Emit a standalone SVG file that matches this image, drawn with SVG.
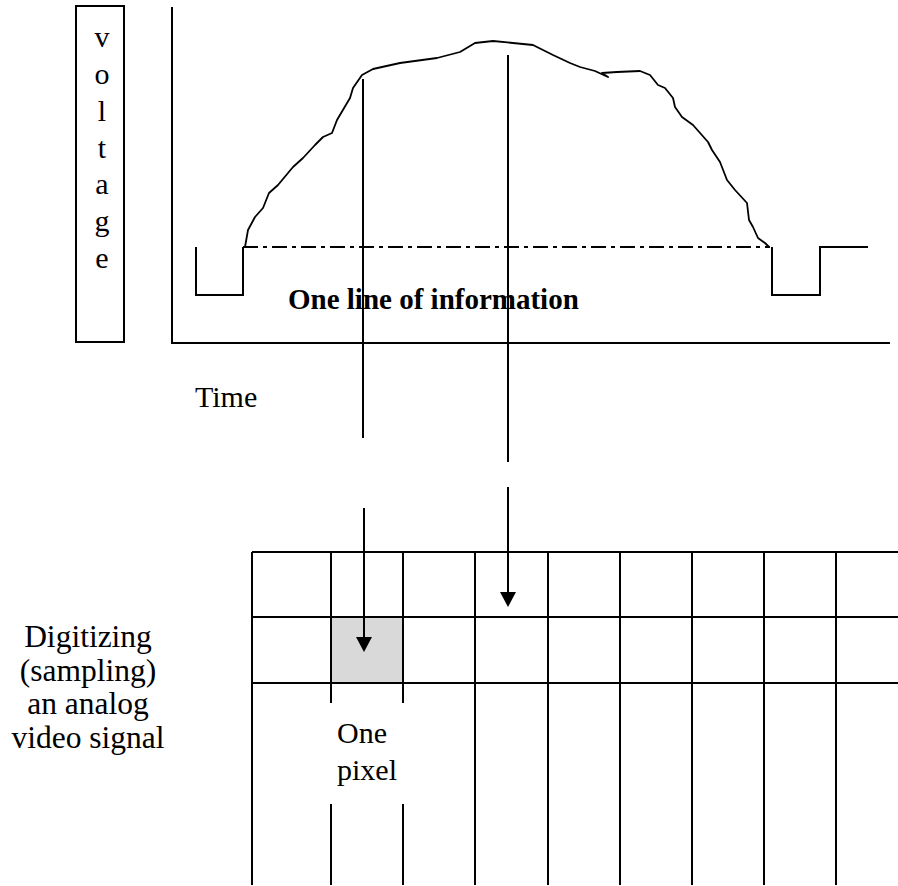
<svg xmlns="http://www.w3.org/2000/svg" width="898" height="886" viewBox="0 0 898 886">
<style>
.ln{stroke:#000;stroke-width:2;fill:none}
.cv{stroke:#000;stroke-width:1.8;fill:none;stroke-linejoin:round;stroke-linecap:round}
.dd{stroke:#000;stroke-width:2;fill:none;stroke-dasharray:15 5 4 5}
.t{font-family:"Liberation Serif","Times New Roman",serif;font-size:30px;fill:#000}
.tl{font-size:31.5px}
.b{font-family:"Liberation Serif","Times New Roman",serif;font-size:29px;font-weight:bold;fill:#000}
</style>
<defs>
<marker id="ah" viewBox="0 0 15 16" markerWidth="15" markerHeight="16" refX="5" refY="8" orient="auto" markerUnits="userSpaceOnUse">
<path d="M0,0 L15,8 L0,16 z" fill="#000"/>
</marker>
</defs>
<rect width="898" height="886" fill="#fff"/>

<g id="voltage-label">
<rect x="76" y="6" width="48" height="336" class="ln"/>
<g class="t" text-anchor="middle">
<text x="102" y="47">v</text>
<text x="102" y="84">o</text>
<text x="102" y="121">l</text>
<text x="102" y="158">t</text>
<text x="102" y="194">a</text>
<text x="102" y="231">g</text>
<text x="102" y="268">e</text>
</g>
</g>

<g id="axes">
<polyline points="172,7 172,343 890,343" class="ln"/>
</g>

<g id="time-label"><text class="t" x="195" y="407">Time</text></g>

<g id="signal">
<polyline points="196,247 196,295 243,295 243,247" class="ln"/>
<line x1="243" y1="247" x2="770" y2="247" class="dd"/>
<polyline points="772,247 772,295 820,295 820,247 868,247" class="ln"/>
<path class="cv" d="M245,247 L248,230 L255,217 L263,208 L269,193 L278,185 L293,167 L303,158 L315,145 L323,137 L332,133 L337,120 L350,98 L353,88 L362,75 L373,69 L400,63 L437,58 L460,52 L475,43 L493,41 L513,43 L533,45 L553,55 L570,63 L580,67 L595,71 L608,77 L602,73 L617,72 L640,71 L650,75 L658,85 L665,88 L673,98 L675,107 L682,117 L693,125 L708,142 L712,150 L720,162 L727,180 L735,190 L747,203 L749,220 L753,227 L758,238 L765,243 L769,247"/>
</g>

<g id="line-label"><text class="b" x="288" y="309">One line of information</text></g>

<g id="grid">
<rect x="331" y="617" width="72" height="66" fill="#d9d9d9"/>
<g class="ln">
<line x1="252" y1="552" x2="898" y2="552"/>
<line x1="252" y1="617" x2="898" y2="617"/>
<line x1="252" y1="683" x2="898" y2="683"/>
<line x1="252" y1="552" x2="252" y2="885"/>
<line x1="331" y1="552" x2="331" y2="703"/>
<line x1="331" y1="804" x2="331" y2="885"/>
<line x1="403" y1="552" x2="403" y2="703"/>
<line x1="403" y1="804" x2="403" y2="885"/>
<line x1="475" y1="552" x2="475" y2="885"/>
<line x1="548" y1="552" x2="548" y2="885"/>
<line x1="620" y1="552" x2="620" y2="885"/>
<line x1="692" y1="552" x2="692" y2="885"/>
<line x1="764" y1="552" x2="764" y2="885"/>
<line x1="836" y1="552" x2="836" y2="885"/>
</g>
</g>

<g id="pixel-label" class="t">
<text x="337" y="743">One</text>
<text x="337" y="780">pixel</text>
</g>

<g id="digitizing-label" class="t tl" text-anchor="middle">
<text x="88" y="647">Digitizing</text>
<text x="88" y="681">(sampling)</text>
<text x="88" y="714">an analog</text>
<text x="88" y="748">video signal</text>
</g>

<g id="connectors" class="ln">
<line x1="363" y1="79" x2="363" y2="438"/>
<line x1="508" y1="55" x2="508" y2="462"/>
<line x1="364" y1="508" x2="364" y2="642" marker-end="url(#ah)"/>
<line x1="508" y1="487" x2="508" y2="597" marker-end="url(#ah)"/>
</g>
</svg>
